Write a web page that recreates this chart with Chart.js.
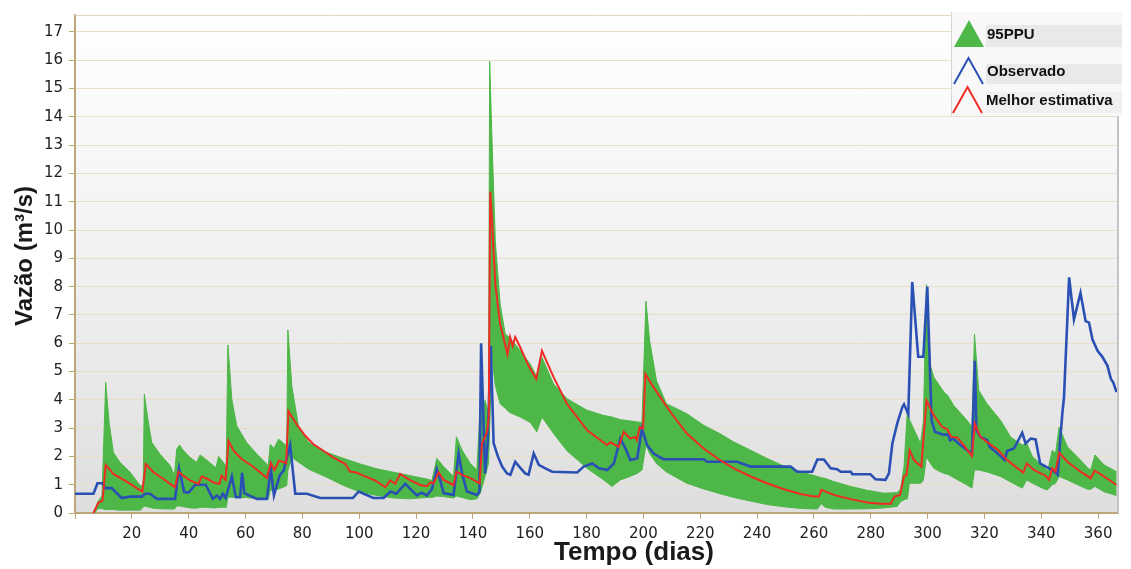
<!DOCTYPE html>
<html>
<head>
<meta charset="utf-8">
<script src="https://cdn.jsdelivr.net/npm/chart.js@4.4.1/dist/chart.umd.min.js"></script>
<style>
    html, body { margin: 0; padding: 0; background: #fff; }
</style>
</head>
<body>
<canvas id="flowChart" width="1131" height="569"></canvas>
<script>
// series labels
const seriesLabels = ['95PPU', 'Observado', 'Melhor estimativa'];

// observed flow [day, m3/s]
const observado = [
    [0,0.68],[6.5,0.68],[7.9,1.05],[9.7,1.05],[10.6,0.88],[12.9,0.88],[16.4,0.53],[19.4,0.58],
    [23.5,0.58],[24.6,0.68],[26.4,0.68],[28.8,0.5],[35.2,0.5],[36.6,1.58],[38.4,0.74],[40,0.72],
    [42.3,1.0],[46,1.0],[48.5,0.5],[50,0.62],[51,0.5],[52,0.68],[53,0.53],[55.2,1.29],[56.6,0.56],
    [58.1,0.56],[58.8,1.42],[59.6,0.7],[64,0.5],[67.5,0.5],[68.9,1.56],[70,0.62],[72,1.32],
    [73.4,1.5],[75.7,2.4],[77.5,0.68],[81.6,0.68],[86.3,0.53],[97.8,0.53],[99.8,0.76],[105,0.53],
    [108.6,0.53],[111,0.76],[113,0.68],[116.2,1.03],[120.3,0.62],[122,0.72],[123.8,0.62],
    [125.6,0.85],[127.3,1.55],[128.5,1.17],[129.7,0.7],[133.2,0.64],[135,2.1],[136.2,1.4],
    [137.9,0.76],[141.4,0.64],[142.3,0.75],[142.9,6.0],[144.3,1.4],[145.2,2.5],[146.3,5.9],
    [147.3,2.46],[148.8,2.0],[150.3,1.64],[152,1.4],[153.2,1.35],[154.9,1.81],[156.3,1.64],
    [158.4,1.4],[159.6,1.35],[161.4,2.1],[163.2,1.7],[165.5,1.58],[167.9,1.46],[176.7,1.43],
    [179,1.64],[182,1.75],[184.4,1.58],[187.3,1.52],[189.6,1.75],[191.9,2.63],[193.7,2.28],
    [195.4,1.87],[197.8,1.93],[199.5,2.98],[201.3,2.4],[203.6,2.1],[205.3,2.0],[207.1,1.9],
    [221.2,1.9],[222.4,1.81],[233,1.81],[237.7,1.64],[251.8,1.64],[254.1,1.46],[259.4,1.46],
    [261.2,1.89],[263.5,1.89],[265.9,1.58],[268.2,1.55],[269.4,1.46],[273,1.46],[273.5,1.37],
    [279.9,1.37],[281.7,1.19],[285.2,1.17],[286.4,1.4],[287.6,2.46],[289.3,3.16],[291.1,3.74],
    [291.7,3.84],[293.2,3.5],[294.6,8.16],[296.7,5.52],[298.5,5.52],[299.9,8.0],[301.4,3.27],
    [302.6,2.87],[305.5,2.77],[307.2,2.77],[307.9,2.57],[309,2.63],[310.9,2.46],[313.9,2.22],
    [315.6,2.1],[316.6,5.38],[317.2,2.92],[318.6,2.69],[321,2.57],[321.8,2.34],[325.7,2.01],
    [327.1,1.87],[328,2.19],[330.4,2.28],[331.6,2.51],[333.3,2.83],[334.5,2.46],[336.3,2.63],
    [338,2.6],[339.6,1.75],[341.6,1.64],[343.9,1.52],[345.8,1.35],[346.4,2.22],[347.4,3.5],
    [348,4.09],[349.8,8.33],[351.5,6.84],[353.8,7.78],[355.6,6.78],[356.8,6.73],[358,6.14],
    [359.8,5.73],[361.5,5.52],[363.3,5.2],[364.5,4.74],[365.3,4.62],[366.5,4.27]
];

// best estimate [day, m3/s]
const melhorEstimativa = [
    [6.5,0],[8.2,0.36],[9.7,0.44],[10.8,1.7],[13.5,1.38],[18.2,1.11],[21.7,0.88],[23.7,0.76],
    [24.9,1.73],[27.6,1.44],[31.1,1.2],[33.5,1.03],[35.2,0.91],[36.4,1.46],[38.1,1.32],[40.5,1.15],
    [43.4,1.03],[44.6,1.29],[46.3,1.22],[48.7,1.08],[50.8,1.03],[51.6,1.32],[53,1.17],[54,2.55],
    [55.8,2.2],[58.7,1.9],[62.2,1.67],[65.1,1.44],[67.5,1.24],[68.9,1.77],[70.2,1.52],[71.8,1.85],
    [73.6,1.79],[74.3,1.75],[75.1,3.6],[78,3.13],[81,2.73],[83.9,2.43],[87.4,2.2],[91,1.96],
    [95.1,1.73],[96.8,1.46],[97.4,1.46],[99.2,1.42],[101.5,1.32],[105.6,1.15],[109.2,0.91],
    [110.9,1.15],[112.7,1.03],[114.4,1.38],[118,1.15],[121.5,0.99],[123.8,0.95],[125,1.08],
    [126.2,1.05],[127.9,1.44],[129.7,1.17],[133.2,0.99],[134.2,1.46],[136.2,1.35],[139.1,1.23],
    [142.4,1.05],[143.2,2.46],[145,2.87],[145.6,3.39],[146.1,11.35],[146.7,10.4],[147.9,8.07],
    [149.6,6.67],[152.2,5.61],[153.1,6.22],[154,5.9],[154.9,6.22],[156.7,5.85],[159.6,5.2],
    [162.3,4.74],[164.3,5.73],[168.4,4.8],[173.1,3.86],[180.2,2.92],[187.2,2.4],[188.4,2.5],
    [191.3,2.34],[193.1,2.87],[195.4,2.63],[197.1,2.69],[197.7,2.57],[198.7,3.04],[199.9,2.98],
    [200.7,4.91],[203.6,4.44],[209.5,3.57],[215.3,2.81],[221.2,2.28],[226.5,1.9],[231.8,1.58],
    [237.7,1.29],[243.5,1.05],[249.4,0.84],[255.3,0.67],[260,0.58],[261.8,0.58],[262.6,0.82],
    [267,0.64],[272.9,0.49],[278.8,0.37],[283.5,0.33],[287,0.33],[288.4,0.58],[290.3,0.64],
    [291.7,1.29],[292.6,1.35],[293.7,2.22],[295.2,1.87],[297.8,1.64],[299.6,3.98],[302.2,3.45],
    [305.1,3.04],[306.9,2.96],[308.3,2.69],[310.4,2.67],[312.7,2.4],[315.6,2.01],[316.6,3.16],
    [318.6,2.69],[320.9,2.51],[324.5,2.25],[328,1.87],[330.9,1.64],[333.7,1.43],[334.9,1.75],
    [337.4,1.52],[341.6,1.31],[342.7,1.17],[343.9,1.58],[345,1.46],[346.3,2.13],[349.2,1.81],
    [353.8,1.46],[357.4,1.23],[358.8,1.5],[362.1,1.29],[366.5,0.99]
];

// 95PPU band [day, lower, upper]
const ppuBand = [
    [7,0,0],[8,0.15,0.4],[9.5,0.15,0.6],[10.8,0.12,4.62],[12,0.12,3.2],[13.5,0.12,2.14],
    [15.8,0.1,1.79],[19.4,0.1,1.44],[22.9,0.1,0.97],[24,0.2,0.95],[24.4,0.25,4.2],[25.5,0.22,3.4],
    [27,0.18,2.49],[29.9,0.15,2.08],[33.5,0.14,1.67],[35,0.14,1.32],[35.8,0.25,2.26],[36.8,0.25,2.4],
    [38.2,0.22,2.2],[40.5,0.18,1.96],[42.8,0.17,1.79],[44,0.2,2.05],[46,0.2,1.9],[48.7,0.18,1.67],
    [49.6,0.18,1.6],[50.5,0.2,2.0],[52.2,0.2,1.79],[53.2,0.2,1.61],[53.8,0.56,5.94],[55.2,0.56,4.0],
    [56.9,0.55,3.08],[60.4,0.55,2.49],[64,0.5,2.08],[66.9,0.49,1.79],[68,0.49,1.67],[68.7,0.8,2.43],
    [70,0.8,2.28],[71.6,0.85,2.61],[73,0.9,2.5],[74.5,0.97,2.37],[74.9,1.5,6.47],[76.3,1.96,4.48],
    [78.6,1.8,3.08],[82.2,1.55,2.49],[88.6,1.26,2.14],[94.5,0.97,1.93],[100.4,0.74,1.73],
    [106.2,0.62,1.56],[112.1,0.53,1.44],[118,0.5,1.32],[123.8,0.55,1.2],[125.6,0.55,1.15],
    [127.3,0.6,1.93],[129.7,0.58,1.64],[133.2,0.53,1.29],[134.2,0.6,2.69],[136.2,0.55,2.22],
    [139.1,0.47,1.75],[141.4,0.5,1.52],[142.6,0.7,3.74],[144.3,1.3,3.98],[145.5,1.75,3.5],
    [145.9,3,15.96],[146.7,5.5,13.3],[147.9,4.5,9.59],[149.6,3.86,7.37],[151.4,3.7,6.32],
    [153,3.55,6.2],[156.7,3.39,5.73],[160.2,3.2,5.26],[162.5,2.87,4.8],[164.3,3.39,5.5],
    [168.4,2.81,4.56],[173.1,2.2,4.04],[180.2,1.58,3.63],[186,1.17,3.45],[189,0.94,3.39],
    [191.9,1.17,3.3],[195.5,1.3,3.25],[197.8,1.4,3.22],[199.5,1.52,3.2],[200.9,2.4,7.49],
    [202.2,2.1,6.08],[204.6,1.75,4.68],[208.1,1.45,3.86],[215.3,1.05,3.51],[221.2,0.85,3.1],
    [227,0.68,2.8],[231.8,0.55,2.51],[237.7,0.42,2.22],[243.5,0.3,1.93],[249.4,0.22,1.66],
    [255.3,0.16,1.46],[261.2,0.14,1.29],[262.6,0.33,1.25],[264,0.2,1.22],[267,0.14,1.11],
    [272.9,0.14,0.94],[278.8,0.15,0.8],[284.6,0.18,0.7],[289.3,0.23,0.72],[290.5,0.4,0.85],
    [291.7,0.47,1.64],[292.9,0.5,3.63],[293.6,1.05,3.3],[295,1.05,3.0],[297.5,1.05,2.46],
    [298.5,1.15,3.2],[299.6,1.99,8.07],[301,1.75,5.2],[302.2,1.58,4.8],[304.6,1.45,4.44],
    [306.3,1.38,4.21],[306.9,1.38,4.18],[309.2,1.25,3.8],[313.9,0.99,3.27],[315.6,0.88,3.04],
    [316.5,1.52,6.32],[318,1.52,4.33],[320.9,1.45,3.86],[325.7,1.29,3.27],[329.2,1.1,2.69],
    [333.3,0.88,2.4],[334.9,1.17,2.46],[336.9,1.05,1.99],[341,0.85,1.64],[342.2,0.82,1.46],
    [343.9,1.0,2.22],[345,1.05,2.1],[346.3,1.29,3.04],[349.2,1.17,2.34],[353.8,0.95,1.87],
    [356.3,0.84,1.6],[357.4,0.84,1.52],[358.9,0.94,2.05],[362.1,0.75,1.7],[366.5,0.62,1.46]
];

const green = '#4db748';
const blue = '#2a50b4';
const red = '#ef2b26';
const axisTan = '#bea67a';

// plot background, frame, axis titles and legend box
const decorations = {
    id: 'decorations',
    beforeDraw(chart) {
        const { ctx, chartArea: a } = chart;
        const g = ctx.createLinearGradient(0, a.top, 0, a.bottom);
        g.addColorStop(0, '#ffffff');
        g.addColorStop(0.5, '#f1f1f1');
        g.addColorStop(1, '#dedede');
        ctx.save();
        ctx.fillStyle = g;
        ctx.fillRect(a.left, a.top, a.right - a.left, a.bottom - a.top);
        ctx.restore();
    },
    afterDraw(chart) {
        const { ctx, chartArea: a } = chart;
        ctx.save();
        // top / right frame
        ctx.strokeStyle = '#e3d8bf';
        ctx.lineWidth = 1;
        ctx.beginPath();
        ctx.moveTo(a.left, a.top + 0.5);
        ctx.lineTo(a.right, a.top + 0.5);
        ctx.stroke();
        ctx.strokeStyle = '#c4c4c4';
        ctx.lineWidth = 2;
        ctx.beginPath();
        ctx.moveTo(a.right, a.top);
        ctx.lineTo(a.right, a.bottom);
        ctx.stroke();

        // axis titles
        ctx.fillStyle = '#1a1a1a';
        ctx.textAlign = 'center';
        ctx.textBaseline = 'middle';
        ctx.font = 'bold 26px "Liberation Sans Narrow", "Liberation Sans", sans-serif';
        ctx.fillText('Tempo (dias)', 634, 553);
        ctx.translate(25, 256);
        ctx.rotate(-Math.PI / 2);
        ctx.font = 'bold 24px "Liberation Sans", Arial, sans-serif';
        ctx.fillText('Vazão (m³/s)', 0, 0);
        ctx.setTransform(1, 0, 0, 1, 0, 0);

        // legend
        ctx.fillStyle = '#f8f8f8';
        ctx.fillRect(951, 12, 171, 104);
        ctx.fillStyle = '#e9e9e9';
        ctx.fillRect(986, 25, 136, 22);
        ctx.fillRect(986, 64, 136, 20);
        ctx.fillStyle = '#f0f0f0';
        ctx.fillRect(986, 92, 136, 21);
        ctx.strokeStyle = '#d6d6d6';
        ctx.lineWidth = 1;
        ctx.beginPath();
        ctx.moveTo(951.5, 12);
        ctx.lineTo(951.5, 116);
        ctx.stroke();

        ctx.fillStyle = green;
        ctx.beginPath();
        ctx.moveTo(954, 47);
        ctx.lineTo(969, 20);
        ctx.lineTo(984, 47);
        ctx.closePath();
        ctx.fill();

        ctx.lineWidth = 2;
        ctx.strokeStyle = blue;
        ctx.beginPath();
        ctx.moveTo(954, 84);
        ctx.lineTo(968.5, 58);
        ctx.lineTo(983, 84);
        ctx.stroke();

        ctx.strokeStyle = red;
        ctx.beginPath();
        ctx.moveTo(953, 113);
        ctx.lineTo(967.5, 87);
        ctx.lineTo(982, 113);
        ctx.stroke();

        ctx.fillStyle = '#111';
        ctx.textAlign = 'left';
        ctx.font = 'bold 15px "Liberation Sans", Arial, sans-serif';
        ctx.fillText(seriesLabels[0], 987, 35);
        ctx.fillText(seriesLabels[1], 987, 72);
        ctx.fillText(seriesLabels[2], 986, 101);
        ctx.restore();
    }
};

new Chart(
    document.getElementById('flowChart'),
    {
        type: 'line',
        data: {
            datasets: [
                {
                    label: seriesLabels[2],
                    data: melhorEstimativa.map(p => ({ x: p[0], y: p[1] })),
                    borderColor: red,
                    borderWidth: 2,
                    order: 0,
                },
                {
                    label: seriesLabels[1],
                    data: observado.map(p => ({ x: p[0], y: p[1] })),
                    borderColor: blue,
                    borderWidth: 2.6,
                    order: 1,
                },
                {
                    label: seriesLabels[0],
                    data: ppuBand.map(p => ({ x: p[0], y: p[2] })),
                    borderColor: green,
                    backgroundColor: green,
                    borderWidth: 1,
                    fill: '+1',
                    order: 2,
                },
                {
                    label: seriesLabels[0] + ' inf',
                    data: ppuBand.map(p => ({ x: p[0], y: p[1] })),
                    borderColor: green,
                    borderWidth: 1,
                    fill: false,
                    order: 3,
                },
            ]
        },
        options: {
            responsive: false,
            animation: false,
            devicePixelRatio: 1,
            layout: { padding: { top: 12, right: 13, left: 0, bottom: 0 } },
            elements: {
                point: { radius: 0 },
                line: { tension: 0 },
            },
            plugins: {
                legend: { display: false },
                tooltip: { enabled: false },
            },
            scales: {
                x: {
                    type: 'linear',
                    min: 0,
                    max: 367,
                    afterFit: s => { s.height = 56; },
                    border: { color: axisTan, width: 2 },
                    grid: { drawOnChartArea: false, tickLength: 6, tickColor: axisTan },
                    ticks: {
                        stepSize: 20,
                        includeBounds: false,
                        maxRotation: 0,
                        autoSkip: false,
                        padding: 6,
                        color: '#222',
                        font: { family: '"DejaVu Sans", Verdana, sans-serif', size: 15 },
                        callback: v => (v === 0 ? '' : v),
                    },
                },
                y: {
                    min: 0,
                    max: 17.6,
                    afterFit: s => { s.width = 75; },
                    border: { color: axisTan, width: 2 },
                    grid: { color: '#e9dfc8', tickLength: 6, tickColor: axisTan },
                    ticks: {
                        stepSize: 1,
                        includeBounds: false,
                        padding: 6,
                        color: '#222',
                        font: { family: '"DejaVu Sans", Verdana, sans-serif', size: 15 },
                    },
                },
            },
        },
        plugins: [decorations],
    }
)
</script>
</body>
</html>
